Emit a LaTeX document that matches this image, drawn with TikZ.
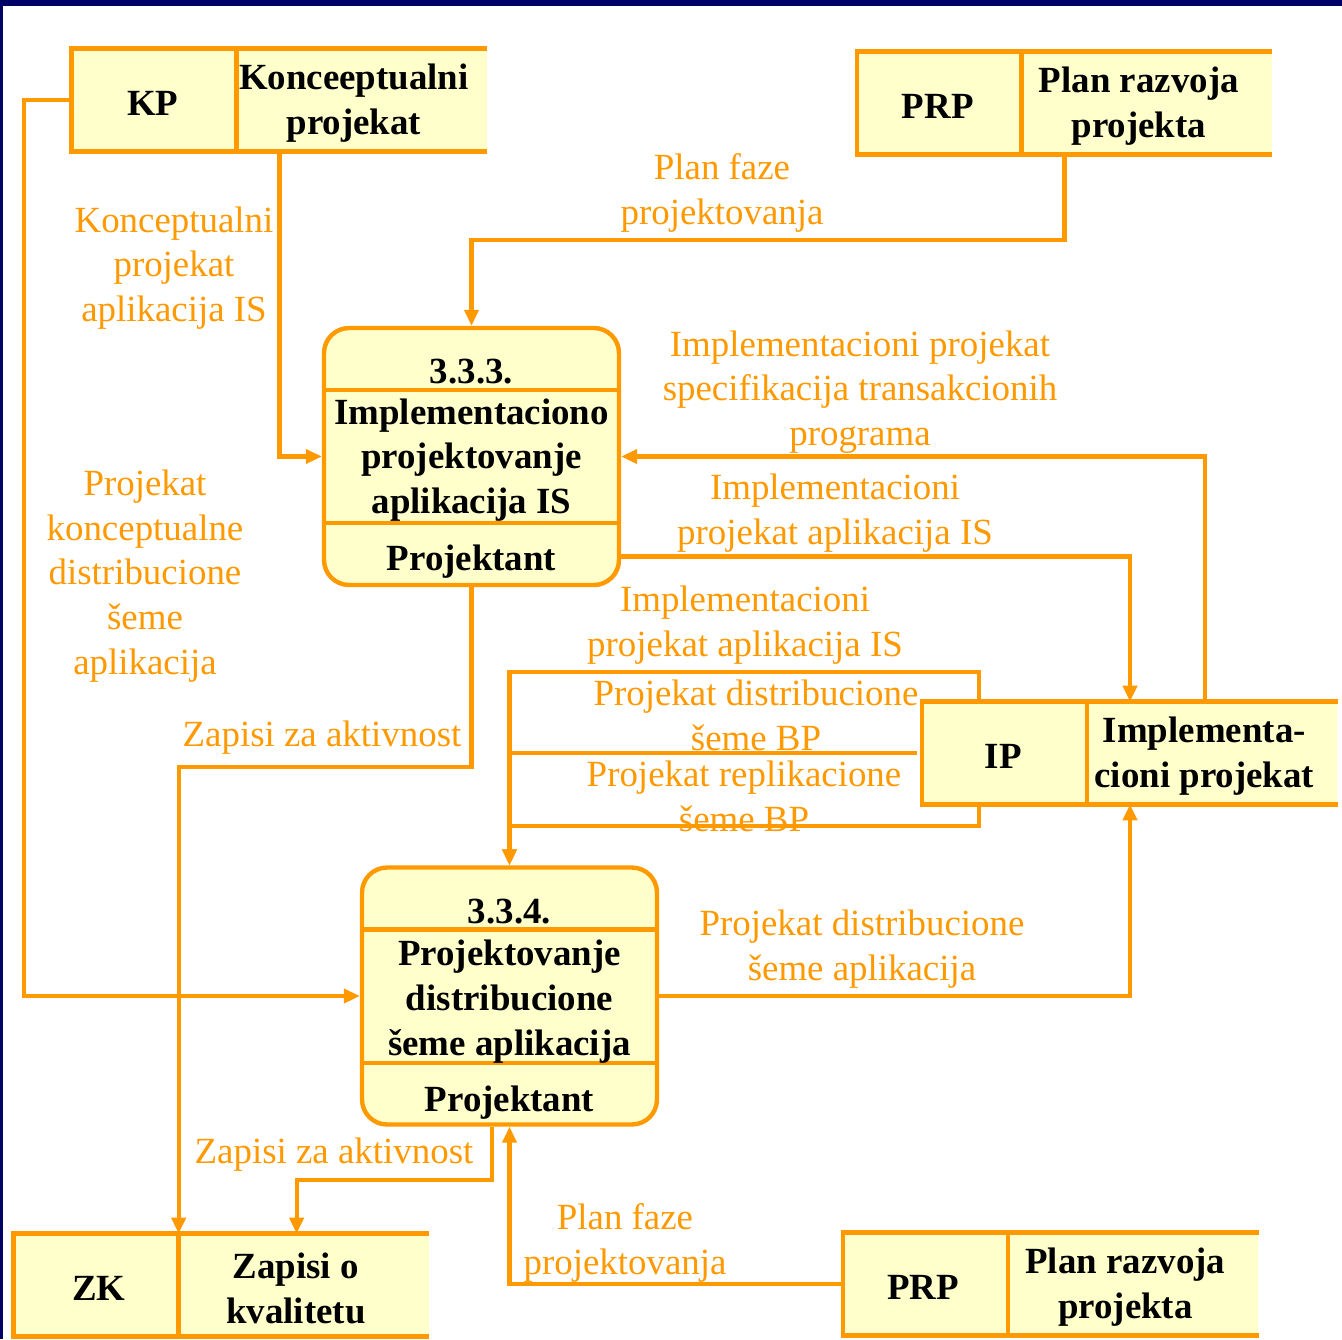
\documentclass[tikz,border=0pt]{standalone}
\usepackage{fontspec}
\setmainfont{Liberation Serif}
\usetikzlibrary{arrows.meta}

\definecolor{dfdorange}{HTML}{FF9900}
\definecolor{dfdfill}{HTML}{FFFFCC}
\definecolor{slidenavy}{HTML}{000066}

\tikzset{
  flowline/.style={draw=dfdorange, line width=2.3pt},
  flow/.style={flowline, -{Triangle[length=0.32cm,width=0.28cm]}},
  storeline/.style={draw=dfdorange, line width=2.5pt},
  store/.style={fill=dfdfill, minimum width=8.3cm, minimum height=2.04cm, inner sep=0pt},
  proc/.style={draw=dfdorange, fill=dfdfill, line width=2.5pt, rounded corners=0.5cm,
    minimum width=5.9cm, minimum height=5.14cm},
  boldtxt/.style={font=\fontsize{21}{25.5}\selectfont\bfseries, align=center, inner sep=0pt, yshift=-0.07cm},
  flowtxt/.style={font=\fontsize{21}{25.5}\selectfont, text=dfdorange, align=center, inner sep=0pt, yshift=-0.06cm},
}

\begin{document}
\begin{tikzpicture}[x=0.02cm, y=-0.02cm]
    \useasboundingbox (0,0) rectangle (1342,1339);
    % slide frame
    \fill[slidenavy] (0,0) rectangle (1342,6);
    \fill[slidenavy] (0,0) rectangle (3,1339);

    % data stores
    \node[store] (kp) at (279.5,100) {};
    \node[store] (prp) at (1064.5,103) {};
    \node[store] (ip) at (1130,753) {};
    \node[store] (zk) at (221.5,1285) {};
    \node[store] (prpb) at (1051,1284) {};
    \foreach \s in {kp,prp,ip,zk,prpb} {
        \draw[storeline] (\s.north east) -- (\s.north west) -- (\s.south west) -- (\s.south east);
        \draw[storeline] ([xshift=3.3cm]\s.north west) -- ([xshift=3.3cm]\s.south west);
    }
    \node[boldtxt] (kp-id) at ([xshift=1.62cm]kp.west) {KP};
    \node[boldtxt] (kp-name) at ([xshift=-2.67cm]kp.east) {Konceeptualni\\projekat};
    \node[boldtxt] (prp-id) at ([xshift=1.62cm]prp.west) {PRP};
    \node[boldtxt] (prp-name) at ([xshift=-2.67cm]prp.east) {Plan razvoja\\projekta};
    \node[boldtxt] (ip-id) at ([xshift=1.62cm]ip.west) {IP};
    \node[boldtxt] (ip-name) at ([xshift=-2.67cm]ip.east) {Implementa-\\cioni projekat};
    \node[boldtxt] (zk-id) at ([xshift=1.7cm]zk.west) {ZK};
    \node[boldtxt] (zk-name) at ([xshift=-2.67cm]zk.east) {Zapisi o\\kvalitetu};
    \node[boldtxt] (prpb-id) at ([xshift=1.6cm]prpb.west) {PRP};
    \node[boldtxt] (prpb-name) at ([xshift=-2.67cm]prpb.east) {Plan razvoja\\projekta};

    % processes
    \node[proc] (p333) at (471.5,456.5) {};
    \node[proc] (p334) at (509.5,996) {};
    \foreach \p in {p333,p334} {
        \draw[storeline] ([yshift=-1.28cm]\p.north west) -- ([yshift=-1.28cm]\p.north east);
        \draw[storeline] ([yshift=1.28cm]\p.south west) -- ([yshift=1.28cm]\p.south east);
    }
    \node[boldtxt] (p333-nr) at ([yshift=-0.84cm]p333.north) {3.3.3.};
    \node[boldtxt] (p333-name) at (p333.center) {Implementaciono\\projektovanje\\aplikacija IS};
    \node[boldtxt] (p333-who) at ([yshift=0.58cm]p333.south) {Projektant};
    \node[boldtxt] (p334-nr) at ([yshift=-0.86cm]p334.north) {3.3.4.};
    \node[boldtxt] (p334-name) at ([yshift=-0.04cm]p334.center) {Projektovanje\\distribucione\\šeme aplikacija};
    \node[boldtxt] (p334-who) at ([yshift=0.56cm]p334.south) {Projektant};

    % flow labels
    \node[flowtxt] (l-kpa) at (174,265) {Konceptualni\\projekat\\aplikacija IS};
    \node[flowtxt] (l-pf) at (722,190) {Plan faze\\projektovanja};
    \node[flowtxt] (l-ips) at (860,389) {Implementacioni projekat\\specifikacija transakcionih\\programa};
    \node[flowtxt] (l-ipa) at (835,510) {Implementacioni\\projekat aplikacija IS};
    \node[flowtxt] (l-pkd) at (145,573) {Projekat\\konceptualne\\distribucione\\šeme\\aplikacija};
    \node[flowtxt] (l-za) at (322,735) {Zapisi za aktivnost};
    \node[flowtxt] (l-ipb) at (745,622) {Implementacioni\\projekat aplikacija IS};
    \node[flowtxt] (l-pdbp) at (756,712) {Projekat distribucione\\šeme BP};
    \node[flowtxt] (l-prbp) at (744,793) {Projekat replikacione\\šeme BP};
    \node[flowtxt] (l-pda) at (862,946) {Projekat distribucione\\šeme aplikacija};
    \node[flowtxt] (l-zb) at (334,1152) {Zapisi za aktivnost};
    \node[flowtxt] (l-pfb) at (625,1240) {Plan faze\\projektovanja};

    % flows
    \draw[flow] (kp.south) |- (p333.west);
    \draw[flow] (kp.west) -- ++(-48,0) |- (p334.west);
    \draw[flow] (prp.south) -- ++(0,86) -| (p333.north);
    \draw[flow] ([xshift=1.5cm]ip.north) |- (p333.east);
    \draw[flow] ([yshift=-2cm]p333.east) -| (ip.north);
    \draw[flow] (p333.south) -- ++(0,180) -| ([xshift=3.3cm]zk.north west);
    \draw[flow] ([xshift=1.14cm]ip.north west) -- ++(0,-30) -| (p334.north);
    \draw[flowline] ([xshift=-0.1cm]ip.west) -- (ip.west -| p334.north);
    \draw[flow] ([xshift=1.14cm]ip.south west) -- ++(0,22) -| (p334.north);
    \draw[flow] (p334.east) -| (ip.south);
    \draw[flow] ([xshift=-0.35cm]p334.south) -- ++(0,53) -| ([xshift=5.66cm]zk.north west);
    \draw[flow] (prpb.west) -| (p334.south);
\end{tikzpicture}
\end{document}
